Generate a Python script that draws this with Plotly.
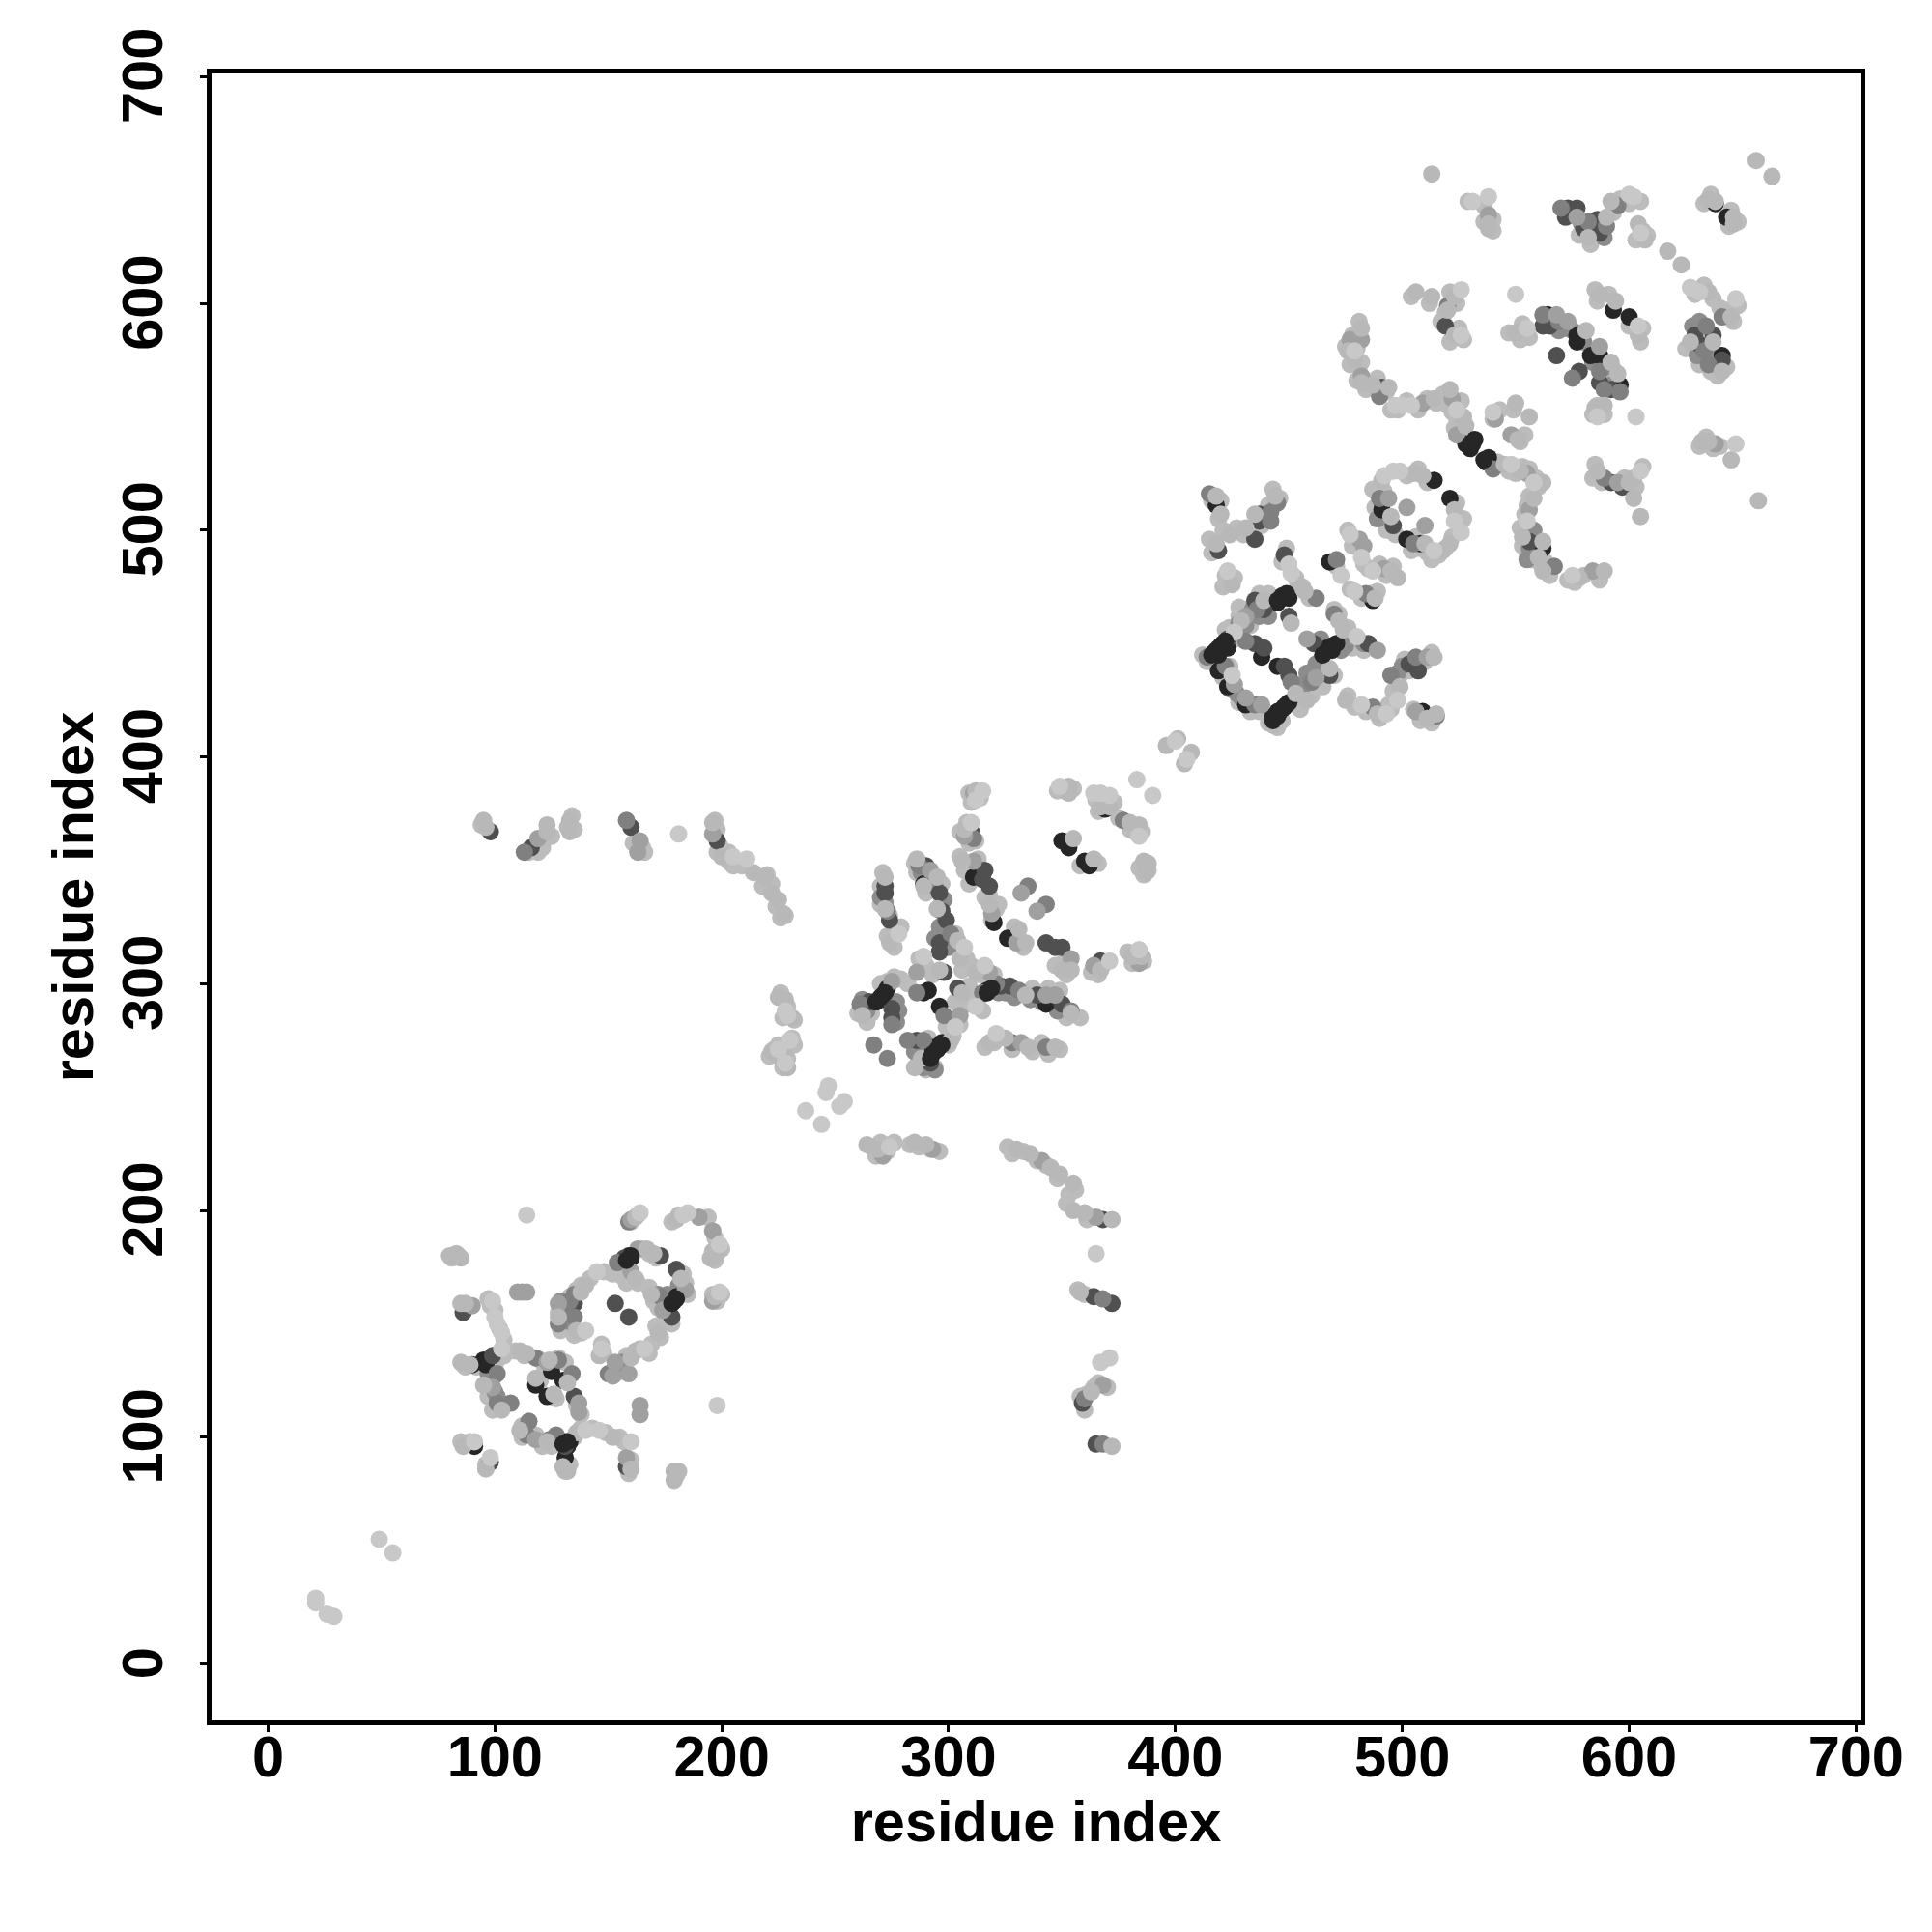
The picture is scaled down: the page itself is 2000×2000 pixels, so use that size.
import plotly.graph_objects as go

# contacts (residue i, residue j), one list per grey level
contacts_under = [(81,179),(83,181),(86,158),(88,158),(86,132),(87,131),(92,131),(98,158),(97,161),(100,156),(102,148),(104,143),(104,136),(109,138),(113,136),(120,134),(122,131),(128,135),(131,133),(120,125),(127,117),(136,114),(138,110),(112,105),(112,100),(118,101),(121,96),(125,96),(128,97),(135,100),(138,104),(143,104),(149,102),(155,100),(157,98),(131,85),(133,88),(159,84),(160,90),(180,83),(96,88),(89,98),(85,98),(99,112),(103,115),(97,118),(98,127),(100,131),(102,135),
(128,155),(129,151),(129,147),(131,157),(133,162),(136,165),(138,167),(142,170),(148,173),(152,172),(155,176),(156,171),(158,168),(163,168),(165,183),(168,181),(171,179),(183,172),(184,168),(185,163),(171,149),(173,144),(169,141),(164,139),(168,137),(158,136),(155,131),(153,128),(156,129),(147,141),(148,137),(138,146),(135,145),(168,166),(170,160),(172,157),(175,153),(178,150),(160,195),(163,198),(181,198),(178,195),(194,197),(197,188),(197,178),(200,183),(196,163),(198,160),(200,163),
(358,118),(360,112),(361,119),(364,122),(366,124),(370,122),(357,165),(360,163),(361,196),(353,207),(352,203),(356,209),(348,214),(343,220),(339,222),(333,226),(326,228),(328,225),(266,228),(270,230),(273,226),(276,230),(268,224),(287,228),(292,227),(283,229),(296,226),(222,344),(209,352),(205,352),(203,358),(198,358),(203,354),(218,343),(224,334),(226,329),(228,330),(220,348),(121,360),(125,365),(94,370),(132,369),(135,368),(134,374),(121,362),(119,358),(115,358),(165,360),(161,362),(166,358),(197,372),(198,368),(199,361),(226,296),(229,290),(227,285),(232,284),(223,271),(225,273),(229,267),(227,263),(231,276),(232,273),(221,268),
(309,384),(310,380),(314,382),(308,371),(305,367),(309,362),(312,363),(285,353),(286,349),(294,344),(297,344),(290,340),(271,349),(270,343),(270,335),(274,330),(279,325),(273,321),(276,316),(297,336),(304,315),(303,322),(308,311),(306,306),(290,308),(287,311),(293,304),(310,308),(314,304),(320,304),(309,298),(316,338),(319,328),(322,335),(329,321),(333,316),(351,310),(352,304),(347,308),(363,305),(366,304),(368,308),(379,314),(381,309),(383,313),(386,310),(344,298),(349,297),(337,298),(352,285),(330,295),(358,285),(263,290),(260,287),(264,283),(266,287),(270,300),(276,303),(273,301),(279,302),(282,300),(291,276),(299,281),(302,277),(305,282),(300,273),(286,264),(290,262),(294,263),(316,272),(320,274),(322,277),(328,271),(337,270),(344,269),(349,271),(341,274),(303,292),(308,291),(310,295),(315,288),(313,293),(309,299),(318,300),(307,350),(305,356),(309,344),(313,355),(318,339),(321,333),(329,325),(351,385),(348,385),(355,386),(365,381),(368,382),(366,376),(373,380),(375,373),(380,368),(382,367),(385,367),(384,351),(388,350),(386,348),(352,362),(358,352),(366,353),
(416,513),(420,513),(419,505),(443,518),(441,511),(446,514),(438,502),(430,498),(427,501),(421,500),(415,496),(416,490),(422,480),(426,479),(421,475),(449,492),(447,486),(453,479),(456,475),(459,470),(441,472),(437,472),(428,466),(431,465),(433,458),(427,452),(424,457),(422,456),(428,462),(414,442),(412,445),(424,440),(424,434),(421,435),(455,425),(457,429),(460,427),(455,421),(461,431),(464,438),(466,440),(470,436),(465,431),(428,424),(433,420),(437,420),(441,415),(445,413),(447,416),(476,451),(478,448),(481,450),(483,447),(474,452),(476,457),(472,463),(470,465),(476,427),(479,422),(484,420),(490,417),(495,421),(494,423),(496,429),(498,433),(499,436),(501,443),(503,438),(510,442),(513,446),(505,421),(508,416),(513,415),(471,484),(476,500),(478,493),(483,485),(485,483),(490,485),(493,480),(496,484),(477,474),(482,470),(486,472),(489,473),
(529,645),(536,643),(540,632),(536,636),(540,637),(578,630),(583,626),(589,633),(593,640),(596,646),(600,644),(605,645),(603,628),(606,632),(608,630),(629,604),(633,608),(637,602),(633,644),(636,648),(645,641),(648,636),(644,634),(648,599),(644,597),(640,598),(646,592),(625,580),(631,573),(636,570),(639,568),(643,572),(504,603),(512,600),(521,605),(524,600),(519,596),(517,592),(521,583),(525,589),(527,584),(547,587),(552,584),(556,585),(553,591),(585,606),(586,601),(591,604),(600,590),(606,589),(605,583),(592,568),(593,571),(584,551),(589,551),(586,555),(631,537),(634,541),(637,536),(640,537),(584,523),(588,521),(585,529),(598,523),(603,519),(606,528),(549,553),(540,549),(543,553),(552,539),(554,542),
(480,566),(484,562),(489,567),(493,561),(495,553),(498,553),(502,557),(507,553),(511,558),(515,556),(518,560),(520,555),(522,552),(524,549),(526,557),(523,545),(526,542),(542,530),(547,526),(550,525),(553,528),(556,527),(559,523),(560,519),(556,515),(555,511),(554,507),(552,501),(553,493),(555,490),(557,487),(559,493),(563,486),(565,480),(561,485),(573,478),(576,477),(580,480),(586,481),(587,478),(481,592),(478,586),(480,580),(475,581),(477,573),(482,574),
(487,518),(488,510),(490,507),(493,500),(497,498),(502,524),(507,527),(511,521),(524,512),(525,502),(527,505),(522,497),(519,492),(516,489),(513,487),(511,490),(507,492),(504,491),(506,497),(492,517),(489,516)]
contacts_under_mid = [(97,128),(98,124),(100,120),(101,118),(99,126),(129,160),(131,154),(133,151),(154,130),(156,133),(172,163),(176,163),(181,167),(183,165),
(288,349),(293,346),(294,343),(298,337),(270,338),(272,336),(296,325),(299,322),(294,320),(297,316),(300,316),(322,296),(325,296),(329,294),(336,293),(341,292),(345,293),(348,288),(262,293),(264,288),(277,292),(278,288),(277,283),(285,270),(288,271),(291,269),(289,263),(294,262),
(428,459),(431,458),(434,465),(437,462),(441,462),(427,428),(429,426),(424,430),(453,432),(456,431),(458,437),(462,441),(473,447),(475,449),(464,452),(483,450),(498,437),(500,440),(505,441),
(566,593),(569,588),(572,589),(575,588),(580,583),(584,574),(590,572),(592,564),(628,590),(631,592),(630,577),(636,578),(638,575),(575,640),(579,635),(584,632),(582,630),(589,629),(491,512),(489,505),(558,500),(556,492),(559,490),(555,487)]
contacts_black = [(179,160),(180,162),(177,159),(159,180),(160,179),(96,132),(95,134),(125,129),(118,123),(123,118),(130,125),(130,98),(133,98),(131,98),(132,96),(131,91),(90,132),(91,96),
(289,344),(320,327),(326,320),(268,292),(271,295),(273,298),(270,293),(289,296),(291,297),(296,290),(297,274),(295,271),(293,270),(294,272),(316,296),(319,298),(317,297),(343,291),(350,363),(353,360),(360,354),(362,352),(311,347),(369,377),
(418,511),(447,470),(450,470),(445,468),(438,444),(421,450),(419,448),(417,446),(423,448),(419,438),(423,431),(445,440),(450,424),(448,422),(445,420),(443,418),(447,421),(449,423),(431,423),(467,448),(469,447),(471,450),(465,445),(509,420),(468,486),(487,469),
(564,595),(577,586),(577,583),(593,597),(600,594),(583,577),(587,577),(641,577),(596,564),(643,638),(638,644),(528,538),(531,538),(530,536),(538,532),(537,530),(514,522),(521,514),(508,494),(502,496),(491,509),(562,492)]
contacts_dark = [(86,155),(173,180),(180,174),(178,153),(157,179),(135,159),(153,159),(159,153),(99,136),(135,118),(131,96),(158,87),(98,89),
(310,367),(290,352),(296,340),(272,343),(272,340),(274,328),(297,332),(299,328),(296,318),(296,314),(298,305),(316,350),(315,346),(318,343),(323,299),(327,299),(339,295),(350,291),(265,292),(275,289),(275,285),(304,298),(286,275),(292,265),(343,318),(347,316),(350,316),(367,310),
(364,162),(372,159),(359,115),(365,97),(368,196),(198,363),(116,360),(160,369),(98,367),
(419,491),(437,507),(437,504),(448,489),(450,462),(435,469),(439,465),(423,452),(435,450),(439,448),(448,440),(450,436),(468,436),(461,450),(485,450),(503,441),(507,438),(435,496),
(573,642),(577,642),(572,638),(580,633),(586,637),(587,631),(637,586),(629,586),(631,582),(641,575),(519,590),(562,590),(565,590),(587,565),(592,562),(568,577),(578,570),(491,563),(592,521),(597,519),(556,495),(496,502)]
contacts_mid = [(159,195),(173,162),(150,128),(154,177),(135,163),(133,160),(130,156),(128,150),(135,153),(101,128),(101,115),(107,115),(118,135),(128,134),(134,128),(115,107),(114,101),(124,99),(127,101),(368,161),(360,117),(113,358),(158,372),(368,97),
(311,364),(287,352),(273,332),(301,322),(261,291),(321,300),(331,297),(335,343),(343,335),(286,296),(298,286),(275,282),(282,275),(289,275),(267,273),(273,267),(328,274),(343,272),(315,296),(377,372),(354,288),
(445,512),(442,508),(442,504),(415,516),(462,470),(436,465),(414,444),(422,440),(431,451),(451,433),(435,423),(460,433),(470,463),(487,422),(495,436),(506,444),(515,418),(471,487),(484,472),
(570,642),(590,634),(595,643),(582,636),(634,590),(633,579),(635,573),(641,594),(520,599),(562,595),(569,592),(587,570),(589,562),(596,561),(575,567),(490,559),(505,494),(490,514),(589,523),(567,484),(540,527)]
contacts_soft = [(160,196),(190,197),(196,191),(196,160),(184,165),(174,156),(163,183),(160,173),(159,128),(153,133),(128,159),(90,158),(99,122),(123,133),(137,115),(137,111),(118,99),(152,127),(158,91),(164,114),(164,110),(110,164),(112,164),(114,164),(196,366),(164,363),(163,358),(119,364),(271,224),(293,227),(341,222),(365,197),(368,123),
(311,384),(307,365),(292,350),(311,354),(319,331),(330,318),(275,301),(286,305),(305,286),(332,340),(339,332),(332,274),(343,295),(347,295),(354,311),(364,308),(384,309),(318,305),
(431,426),(438,423),(426,432),(431,462),(458,452),(462,435),(489,447),(481,496),(483,493),(492,483),(506,420),(511,444),
(538,639),(577,638),(573,592),(568,595),(587,581),(482,568),(477,584),(482,584),(638,538),(595,521),(541,549),(548,542),(509,556),(522,558),(524,542),(555,525),(556,509),(584,482),(510,502),(502,510),(494,514)]
contacts_light = [(80,180),(82,180),(84,180),(85,179),(85,159),(87,159),(162,197),(180,196),(195,179),(196,182),(198,181),(197,162),(182,170),(169,163),(172,146),(162,138),(160,135),(167,183),(170,181),(162,170),(146,136),(140,167),(138,164),(128,153),(136,147),(85,133),(89,132),(95,123),(103,112),(111,138),(114,137),(118,126),(126,119),(132,124),(111,103),(123,98),(136,102),(152,100),(86,96),(96,86),(130,87),(132,85),(160,86),(179,85),(179,81),(181,85),(124,134),
(363,120),(355,200),(360,199),(372,196),(358,164),(372,96),(264,229),(269,227),(285,230),(290,229),(330,227),(336,225),(345,219),(349,216),(355,212),(95,372),(96,369),(123,367),(123,370),(133,372),(133,367),(196,371),(200,356),(214,349),(219,347),(222,340),(225,337),(227,331),(225,294),(228,293),(231,285),(222,270),(228,272),(225,268),(229,263),
(312,385),(307,368),(286,355),(295,347),(289,343),(272,347),(272,333),(274,318),(295,333),(304,319),(305,311),(296,306),(306,354),(318,335),(331,324),(350,306),(354,306),(367,306),(381,312),(385,312),(312,305),(354,287),(262,286),(288,267),(285,263),(301,275),(318,274),(325,276),(335,272),(347,272),(334,295),(306,296),(355,364),(364,355),(353,387),(353,384),(367,378),(371,378),(380,371),(384,370),(386,354),(388,353),(387,349),(404,397),(334,318),
(418,515),(420,507),(444,515),(435,507),(431,501),(424,498),(418,494),(425,476),(454,476),(457,473),(451,459),(439,469),(429,460),(458,425),(453,428),(468,439),(443,414),(475,425),(489,419),(499,431),(514,444),(511,417),(515,419),(472,460),(474,456),(495,482),(498,479),(488,470),(396,405),(401,408),(407,402),
(513,657),(538,635),(538,633),(582,629),(590,638),(592,645),(604,635),(607,628),(617,623),(623,617),(635,605),(635,646),(638,645),(646,638),(646,635),(656,663),(663,656),(645,594),(627,583),(637,583),(641,570),(506,605),(513,603),(523,603),(520,597),(523,586),(550,587),(581,588),(587,604),(594,601),(604,586),(592,574),(595,569),(585,554),(589,555),(632,539),(635,539),(645,531),(657,513),(586,526),(600,521),(602,523),(602,514),(605,506),(550,556),(556,550),(551,540),(482,565),(487,564),(494,563),(514,558),(521,562),(527,550),(528,546),(545,529),(552,526),(562,521),(558,514),(553,497),(562,495),(560,488),(562,482),(578,479),(589,482),(482,589),(476,579),(479,575),(509,524),(523,509),(521,494),(518,491),(510,494),(495,506),(491,522),(505,525)]
contacts_pale = [(114,198),(198,114),(164,199),(183,198),(185,199),(199,185),(199,164),(145,173),(147,139),(166,139),(140,147),(99,160),(100,153),(101,150),(103,146),(103,139),(91,98),(98,91),(140,103),(146,103),(160,98),
(365,181),(367,133),(371,135),(274,228),(181,366),(211,355),(205,356),(21,29),(21,27),(26,22),(29,21),(49,55),(55,49),(237,244),(244,238),(247,255),(254,248),(252,246),(246,252),(229,286),(230,275),(225,271),(228,265),(228,288),
(315,385),(312,381),(310,371),(278,322),(307,316),(289,312),(316,308),(371,310),(384,315),(312,290),(303,281),(321,278),(349,387),(364,384),(367,384),(371,383),(384,365),(383,390),(390,383),
(423,482),(450,485),(451,481),(426,455),(425,436),(480,453),(482,423),(493,419),(498,425),(473,480),(477,498),(482,488),(487,482),(479,473),(400,407),(405,399),
(531,645),(538,647),(600,648),(602,647),(605,631),(627,607),(631,605),(647,602),(550,604),(526,606),(526,586),(555,589),(604,590),(586,550),(603,550),(647,538),(605,526),(540,552),(497,555),(500,555),(504,555),(524,553),(548,529),(558,521),(555,504),(575,480),(479,579),(523,504),(526,499),(514,491),(492,524),(496,526),(499,526)]
contacts_black_top = [(418,447),(420,449),(422,451),(416,445),(419,445),(444,418),(446,420),(448,422),(443,416),(445,418),(445,469),(447,471),(449,472),(467,447),(469,449),(465,445),(268,292),(270,294),(272,296),(293,269),(295,271),(297,273),(292,267),(317,296),(319,298),(530,538),(532,540),(536,531),(130,97),(132,98),(178,159),(180,161),(158,178),(160,180)]

tick_values = [0, 100, 200, 300, 400, 500, 600, 700]
axis_title = "residue index"

layers = [(contacts_under, "#bcbcbc"), (contacts_under_mid, "#8c8c8c"), (contacts_black, "#262626"), (contacts_dark, "#505050"), (contacts_mid, "#808080"),
          (contacts_soft, "#a0a0a0"), (contacts_light, "#b8b8b8"), (contacts_pale, "#c8c8c8"), (contacts_black_top, "#262626")]

fig = go.Figure()
for pts, colour in layers:
    fig.add_trace(go.Scatter(x=[p[0] for p in pts], y=[p[1] for p in pts], mode="markers",
                             marker=dict(size=18, color=colour, line=dict(width=0)),
                             showlegend=False, hoverinfo="skip", cliponaxis=False))

font = dict(family="Liberation Sans", size=59.5, color="black", weight=700)
axis = dict(tickmode="array", tickvals=tick_values, ticks="outside", ticklen=7, tickwidth=3, tickcolor="black",
            showline=True, mirror=True, linewidth=5, linecolor="black", showgrid=False, zeroline=False,
            tickfont=font)
fig.update_layout(width=2000, height=2000, autosize=False, plot_bgcolor="white", paper_bgcolor="white",
                  margin=dict(l=218.5, r=74, t=75.5, b=218.5, pad=0))
fig.update_xaxes(range=[-24.9, 702], title=dict(text=axis_title, font=font, standoff=10), tickangle=0,
                 ticklabelstandoff=-25, automargin=True, **axis)
fig.update_yaxes(range=[-24.9, 701.4], title=dict(text=axis_title, font=font, standoff=0), tickangle=-90,
                 ticklabelstandoff=15, ticklabelshift=8, **axis)

fig.write_html("out.html", config={"displayModeBar": False},
               post_script="document.body.style.margin='0';window.dispatchEvent(new Event('resize'));")
